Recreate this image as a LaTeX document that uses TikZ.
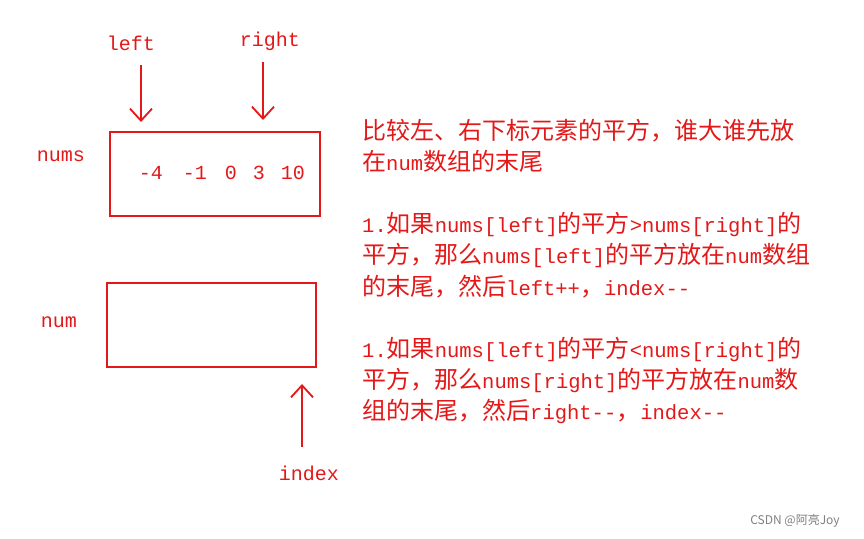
\documentclass[tikz,border=0pt]{standalone}
\usepackage{fontspec}
\usetikzlibrary{arrows.meta}
\setmainfont{Liberation Mono}
\newfontfamily\cjk{Noto Sans CJK SC}
\definecolor{rd}{RGB}{228,24,24}
\newcommand{\z}[1]{{\cjk\fontsize{24}{28}\selectfont #1}}
\begin{document}
\begin{tikzpicture}[x=1pt,y=-1pt,
  lbl/.style={text=rd,font=\fontsize{20}{24}\selectfont,inner sep=0pt},
  txt/.style={text=rd,font=\fontsize{20.5}{24}\selectfont,anchor=base west,inner sep=0pt},
  box/.style={draw=rd,line width=1.8pt},
  arr/.style={draw=rd,line width=1.8pt,-{Straight Barb[length=12pt,width=22pt,line width=1.8pt]}}]
\useasboundingbox (0,0) rectangle (864,538);
\fill[white] (0,0) rectangle (864,538);
\draw[box] (110,132) rectangle (320,216);
\draw[box] (107,283) rectangle (316,367);
\node[lbl] (arr) at (222,173) {-4\hspace{20pt}-1\hspace{18pt}0\hspace{16pt}3\hspace{16pt}10};
\node[lbl] (l) at (131,43) {left};
\node[lbl] (r) at (270,41) {right};
\node[lbl] (nums) at (61,156) {nums};
\node[lbl] (num) at (59,322) {num};
\node[lbl] (idx) at (309,473) {index};
\coordinate (la) at (141,122);
\coordinate (ra) at (263,120);
\coordinate (ia) at (302,384);
\draw[arr] (141,65) -- (la);
\draw[arr] (263,62) -- (ra);
\draw[arr] (302,447) -- (ia);
\node[txt] (t1) at (362,139) {\z{比较左、右下标元素的平方，谁大谁先放}};
\node[txt] (t2) at (362,170) {\z{在}num\z{数组的末尾}};
\node[txt] (t3) at (362,232) {1.\z{如果}nums[left]\z{的平方}>nums[right]\z{的}};
\node[txt] (t4) at (362,263) {\z{平方，那么}nums[left]\z{的平方放在}num\z{数组}};
\node[txt] (t5) at (362,295) {\z{的末尾，然后}left++\z{，}index-{}-};
\node[txt] (t6) at (362,357) {1.\z{如果}nums[left]\z{的平方}<nums[right]\z{的}};
\node[txt] (t7) at (362,388) {\z{平方，那么}nums[right]\z{的平方放在}num\z{数}};
\node[txt] (t8) at (362,419) {\z{组的末尾，然后}right-{}-\z{，}index-{}-};
\node[text=gray,font=\cjk\fontsize{12}{14}\selectfont,inner sep=0pt] (wm) at (795,521) {CSDN @阿亮Joy};
\end{tikzpicture}
\end{document}
